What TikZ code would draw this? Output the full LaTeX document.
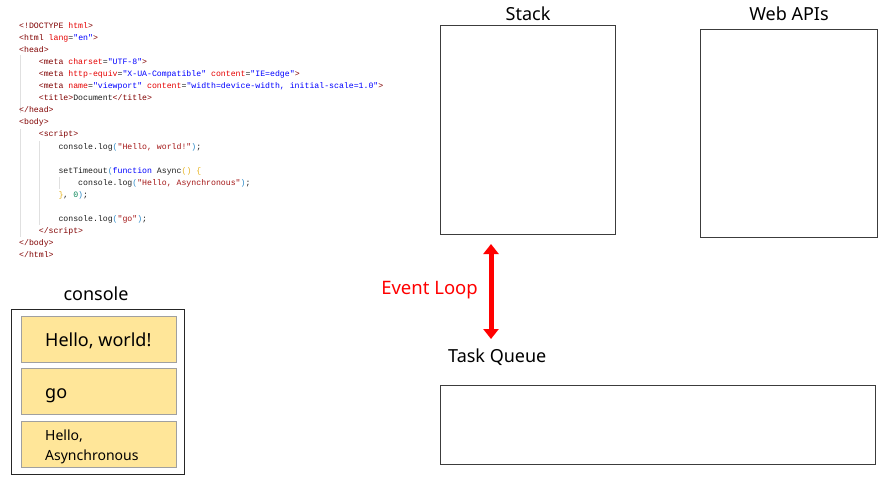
\documentclass[tikz,border=0pt]{standalone}
\usepackage{fontspec}
\setmainfont{Noto Sans}
\setmonofont{Liberation Mono}
\usetikzlibrary{arrows.meta}
\definecolor{tagc}{HTML}{800000}
\definecolor{attrc}{HTML}{E50000}
\definecolor{valc}{HTML}{0000FF}
\definecolor{txtc}{HTML}{1E1E1E}
\definecolor{strc}{HTML}{A31515}
\definecolor{kwc}{HTML}{0000FF}
\definecolor{brA}{HTML}{2E8BC9}
\definecolor{brB}{HTML}{E6B422}
\definecolor{numc}{HTML}{098658}
\definecolor{boxc}{HTML}{3C3C3C}
\definecolor{cellfill}{HTML}{FFE699}
\definecolor{cellline}{HTML}{A0A0A0}
\definecolor{guidec}{HTML}{E0E0E0}
\newcommand\ctag[1]{\textcolor{tagc}{#1}}
\newcommand\cattr[1]{\textcolor{attrc}{#1}}
\newcommand\cval[1]{\textcolor{valc}{#1}}
\newcommand\cstr[1]{\textcolor{strc}{#1}}
\newcommand\ckw[1]{\textcolor{kwc}{#1}}
\newcommand\cbA[1]{\textcolor{brA}{#1}}
\newcommand\cbB[1]{\textcolor{brB}{#1}}
\newcommand\cnum[1]{\textcolor{numc}{#1}}
\newcommand\codeline[4]{\node[codeline] (#1) at ({19+4.92*#2},{-(28+12.1*#3)}) {#4};}
\tikzset{
  codeline/.style={anchor=base west, inner sep=0pt, font=\ttfamily\fontsize{8.2}{9}\selectfont, text=txtc},
  frame/.style={draw=boxc, line width=1pt, anchor=north west, inner sep=0pt},
  cell/.style={draw=cellline, line width=0.8pt, fill=cellfill, anchor=north west, inner sep=0pt},
  title/.style={anchor=base, inner sep=0pt, font=\fontsize{18}{20}\selectfont, text=black},
  celltext/.style={anchor=base west, inner sep=0pt, text=black},
  guide/.style={draw=guidec, line width=0.6pt}
}
\begin{document}
\begin{tikzpicture}[x=1pt,y=1pt]
\useasboundingbox (0,0) rectangle (885,-480);
% indent guides
\coordinate (g1a) at (20,-55); \coordinate (g1b) at (20,-113);
\coordinate (g2a) at (20,-129); \coordinate (g2b) at (20,-237);
\coordinate (g3a) at (39,-141); \coordinate (g3b) at (39,-225);
\coordinate (g4a) at (59,-177); \coordinate (g4b) at (59,-189);
\draw[guide] (g1a) -- (g1b);
\draw[guide] (g2a) -- (g2b);
\draw[guide] (g3a) -- (g3b);
\draw[guide] (g4a) -- (g4b);
% code
\codeline{l0}{0}{0}{\ctag{<!DOCTYPE} \cattr{html}\ctag{>}}
\codeline{l1}{0}{1}{\ctag{<html} \cattr{lang}=\cval{"en"}\ctag{>}}
\codeline{l2}{0}{2}{\ctag{<head>}}
\codeline{l3}{4}{3}{\ctag{<meta} \cattr{charset}=\cval{"UTF-8"}\ctag{>}}
\codeline{l4}{4}{4}{\ctag{<meta} \cattr{http-equiv}=\cval{"X-UA-Compatible"} \cattr{content}=\cval{"IE=edge"}\ctag{>}}
\codeline{l5}{4}{5}{\ctag{<meta} \cattr{name}=\cval{"viewport"} \cattr{content}=\cval{"width=device-width, initial-scale=1.0"}\ctag{>}}
\codeline{l6}{4}{6}{\ctag{<title>}Document\ctag{</title>}}
\codeline{l7}{0}{7}{\ctag{</head>}}
\codeline{l8}{0}{8}{\ctag{<body>}}
\codeline{l9}{4}{9}{\ctag{<script>}}
\codeline{l10}{8}{10}{console.log\cbA{(}\cstr{"Hello, world!"}\cbA{)};}
\codeline{l12}{8}{12}{setTimeout\cbA{(}\ckw{function} Async\cbB{()} \cbB{\{}}
\codeline{l13}{12}{13}{console.log\cbA{(}\cstr{"Hello, Asynchronous"}\cbA{)};}
\codeline{l14}{8}{14}{\cbB{\}}, \cnum{0}\cbA{)};}
\codeline{l16}{8}{16}{console.log\cbA{(}\cstr{"go"}\cbA{)};}
\codeline{l17}{4}{17}{\ctag{</script>}}
\codeline{l18}{0}{18}{\ctag{</body>}}
\codeline{l19}{0}{19}{\ctag{</html>}}
% stack and web apis
\node[frame, minimum width=175pt, minimum height=209pt] (stack) at (440,-25) {};
\node[title] (stacklbl) at (528,-20.7) {Stack};
\node[frame, minimum width=177pt, minimum height=208pt] (webapi) at (700,-29) {};
\node[title] (webapilbl) at (789,-20.7) {Web APIs};
% task queue
\node[frame, minimum width=435pt, minimum height=79pt] (queue) at (440,-385) {};
\node[title, anchor=base west] (queuelbl) at (448,-362) {Task Queue};
% event loop
\coordinate (elTop) at (491,-244);
\coordinate (elBot) at (491,-339);
\draw[red, line width=5pt, {Triangle[width=15pt,length=10pt]}-{Triangle[width=15pt,length=10pt]}] (elTop) -- (elBot);
\node[title, anchor=base east, text=red, font=\fontsize{18.5}{20}\selectfont] (evlbl) at (478,-294) {Event Loop};
% console
\node[title] (conlbl) at (96,-300.7) {console};
\node[frame, draw=black!85, line width=1.1pt, minimum width=173pt, minimum height=165pt] (console) at (10.5,-308.5) {};
\node[cell, minimum width=155pt, minimum height=46pt] (c1) at (20.7,-316) {};
\node[cell, minimum width=155pt, minimum height=46pt] (c2) at (20.7,-368) {};
\node[cell, minimum width=155pt, minimum height=46pt] (c3) at (20.7,-420.7) {};
\node[celltext, font=\fontsize{18}{20}\selectfont] (t1) at (45,-346.7) {Hello, world!};
\node[celltext, font=\fontsize{18}{20}\selectfont] (t2) at (45,-398) {go};
\node[celltext, font=\fontsize{14}{16}\selectfont] (t3a) at (45,-440.7) {Hello,};
\node[celltext, font=\fontsize{14}{16}\selectfont] (t3b) at (45,-460) {Asynchronous};
\end{tikzpicture}
\end{document}
